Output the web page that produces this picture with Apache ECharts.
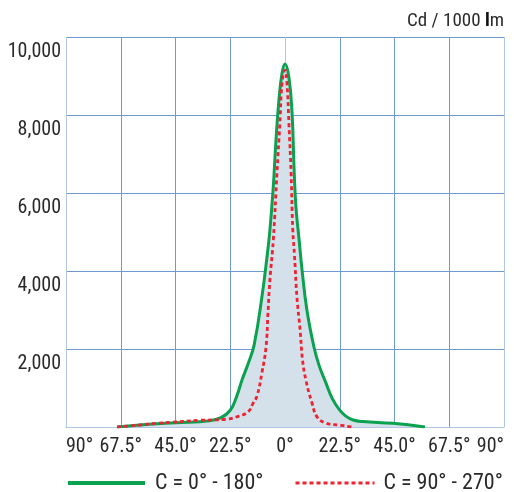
<!DOCTYPE html>
<html>
<head>
<meta charset="utf-8">
<script src="https://cdn.jsdelivr.net/npm/echarts@6/dist/echarts.min.js"></script>
<style>html,body{margin:0;padding:0;background:#fff}#c{width:514px;height:492px}</style>
</head>
<body>
<div id="c"></div>
<script>
// Angle (deg) vs luminous intensity (cd / 1000 lm)
var seriesNames = ['C = 0° - 180°', 'C = 90° - 270°'];
var xTickLabels = ['90°', '67.5°', '45.0°', '22.5°', '0°', '22.5°', '45.0°', '67.5°', '90°'];
var yTickLabels = ['', '2,000', '4,000', '6,000', '8,000', '10,000'];

var curveC0 = [
  [-69, 0], [-56, 70], [-45, 110], [-31, 160], [-26.3, 240], [-22.5, 430], [-20, 760],
  [-17.7, 1200], [-15, 1650], [-12.7, 2100], [-9.5, 3330], [-7.4, 4360], [-6.2, 5050],
  [-4.9, 6080], [-3.7, 7360], [-2.5, 8380], [-1.2, 9080], [0, 9310], [1.6, 8970],
  [2.9, 8050], [3.7, 6670], [4.5, 5640], [5.8, 4800], [7, 4030], [9, 3000], [11.9, 2050],
  [14, 1580], [16.8, 1130], [19.5, 720], [22.4, 440], [25, 280], [28, 180], [32, 140],
  [44.4, 95], [57.5, 0]
];
var curveC90 = [
  [-69, 0], [-60, 50], [-52.6, 95], [-46.4, 120], [-35.3, 170], [-24.2, 200], [-18.9, 280],
  [-15, 400], [-13.2, 600], [-11.5, 800], [-9.5, 1385], [-7.8, 2050], [-7, 2920],
  [-6.2, 3770], [-4.8, 4800], [-3.3, 6510], [-2.1, 7790], [-1.2, 8820], [0, 9150],
  [0.8, 8820], [1.6, 7790], [2.5, 6510], [3.2, 5050], [3.9, 4400], [4.9, 3330],
  [6.2, 2490], [7.2, 1720], [8.6, 1200], [11.1, 615], [13.2, 256], [16.8, 100],
  [22.2, 50], [27.5, 0]
];

var FONT = "'Roboto Condensed', 'DejaVu Sans Condensed', sans-serif";
var GRID_D = '#7099cf', GRID_L = '#b0c8e6';
var TXT = '#2a2a2a';

var chart = echarts.init(document.getElementById('c'), null, {renderer: 'canvas'});
chart.setOption({
  animation: false,
  backgroundColor: '#fff',
  title: {
    text: 'Cd / 1000 {b|l}m', right: 10, top: 12, padding: 0,
    textStyle: {fontFamily: FONT, fontSize: 19, fontWeight: 'normal', color: TXT,
      rich: {b: {fontFamily: FONT, fontSize: 19, fontWeight: 'bold', color: '#111'}}}
  },
  grid: {left: 66, right: 10, top: 37, bottom: 65, containLabel: false},
  xAxis: {
    type: 'value', min: -90, max: 90, interval: 22.5,
    axisLine: {show: true, lineStyle: {color: GRID_L, width: 1}},
    axisTick: {show: false},
    axisLabel: {
      fontFamily: FONT, fontSize: 20, color: TXT, margin: 10,
      alignMinLabel: 'left', alignMaxLabel: 'right',
      formatter: function (v) { return xTickLabels[Math.round((v + 90) / 22.5)]; }
    },
    splitLine: {show: true, lineStyle: {width: 1,
      color: [GRID_L, GRID_D, GRID_D, GRID_D, GRID_L, GRID_D, GRID_D, GRID_D, GRID_L]}}
  },
  yAxis: {
    type: 'value', min: 0, max: 10000, interval: 2000,
    axisLine: {show: false}, axisTick: {show: false},
    axisLabel: {
      fontFamily: FONT, fontSize: 20, color: TXT, margin: 5,
      verticalAlign: 'top', lineHeight: 24, padding: [3, 0, 0, 0],
      formatter: function (v) { return yTickLabels[Math.round(v / 2000)]; }
    },
    splitLine: {show: true, lineStyle: {width: 1, color: [GRID_L, GRID_D, GRID_D, GRID_D, GRID_D, GRID_D]}}
  },
  legend: [
    {left: 66, top: 472, padding: 0, itemWidth: 77, itemHeight: 22, data: [seriesNames[0]],
      textStyle: {fontFamily: FONT, fontSize: 22, color: TXT, padding: [0, 0, 0, 5]},
      itemStyle: {color: 'rgba(0,0,0,0)', borderWidth: 0},
      lineStyle: {width: 4}},
    {left: 294, top: 472, padding: 0, itemWidth: 79, itemHeight: 22, data: [seriesNames[1]],
      textStyle: {fontFamily: FONT, fontSize: 22, color: TXT, padding: [0, 0, 0, 4]},
      itemStyle: {color: 'rgba(0,0,0,0)', borderWidth: 0},
      lineStyle: {width: 3}}
  ],
  series: [
    {name: 'fill', type: 'line', data: curveC0, smooth: 0.45, symbol: 'none', silent: true,
      lineStyle: {width: 0}, areaStyle: {color: '#d5e1ea', opacity: 1}, z: 1},
    {name: seriesNames[0], type: 'line', data: curveC0, smooth: 0.45, symbol: 'none',
      lineStyle: {color: '#0aa14f', width: 3}, itemStyle: {color: '#0aa14f'}, z: 3},
    {name: seriesNames[1], type: 'line', data: curveC90, smooth: 0.45, symbol: 'none',
      lineStyle: {color: '#ee2230', width: 2.8, type: [4, 3]}, itemStyle: {color: '#ee2230'}, z: 4}
  ]
});
</script>
</body>
</html>
